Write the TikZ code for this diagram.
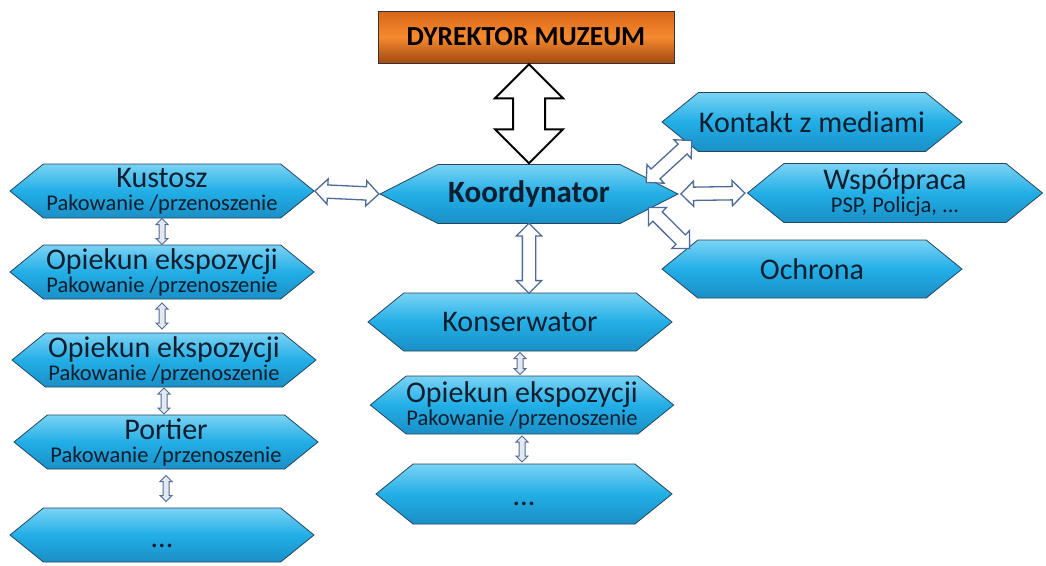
\documentclass[tikz,border=0pt]{standalone}
\usepackage{fontspec}
\setmainfont{Carlito}
\usetikzlibrary{shapes.symbols,shapes.arrows}

\definecolor{hexmid}{HTML}{22AEE6}
\definecolor{hextop}{HTML}{7AD3F4}
\definecolor{hexbot}{HTML}{1A8FC6}
\definecolor{hexline}{HTML}{23465E}
\definecolor{hextext}{HTML}{0F1E2E}
\definecolor{arrline}{HTML}{4E6A98}
\definecolor{dirtop}{HTML}{D8661A}
\definecolor{dirmid}{HTML}{F58A2E}
\definecolor{dirbot}{HTML}{A24812}

\newcommand{\podpis}[1]{{\fontsize{22.5}{22.5}\selectfont #1}}

\tikzset{
  hexa/.style={signal, signal to=east and west, signal pointer angle=78,
    draw=hexline, line width=0.8pt, top color=hextop, bottom color=hexbot, middle color=hexmid,
    minimum width=304pt, minimum height=54pt, inner sep=0pt, align=center, text=hextext,
    font=\fontsize{30}{23}\selectfont},
  dyrektor/.style={rectangle, draw=black!80, line width=1pt, top color=dirtop, bottom color=dirbot,
    middle color=dirmid, minimum width=296pt, minimum height=52pt, inner sep=0pt,
    font=\bfseries\fontsize{27.5}{27.5}\selectfont},
  darr/.style={double arrow, draw=arrline, fill=white, line width=1.3pt, inner xsep=0pt,
    inner ysep=6pt, double arrow head extend=6pt},
  malastrz/.style={double arrow, draw=arrline, fill=white!85!arrline, line width=1pt, inner xsep=0pt,
    inner ysep=2.5pt, double arrow head extend=3pt, minimum height=26pt},
  duzastrz/.style={double arrow, draw=black, fill=white, line width=2pt, inner xsep=0pt,
    inner ysep=15pt, double arrow head extend=18pt}
}

\begin{document}
\begin{tikzpicture}[x=1pt, y=-1pt]
\useasboundingbox (0,0) rectangle (1046,565);

\node[dyrektor] (dyr) at (526,37) {DYREKTOR MUZEUM};
\node[hexa, signal pointer angle=54, minimum width=298pt, minimum height=59pt,
  font=\bfseries\fontsize{31}{31}\selectfont] (koord) at (529,194) {Koordynator};

% lewa kolumna
\node[hexa] (kus) at (162,191) {Kustosz\\\podpis{Pakowanie /przenoszenie}};
\node[hexa] (op1) at (162,272) {Opiekun ekspozycji\\\podpis{Pakowanie /przenoszenie}};
\node[hexa] (op2) at (164,360) {Opiekun ekspozycji\\\podpis{Pakowanie /przenoszenie}};
\node[hexa] (por) at (166,442) {Portier\\\podpis{Pakowanie /przenoszenie}};
\node[hexa] (kropl) at (162,535) {\mbox{}\\[3pt]...};

% srodek
\node[hexa, minimum height=58pt] (kons) at (520,322) {Konserwator};
\node[hexa, minimum height=58pt, minimum width=300pt] (op3) at (522,405) {Opiekun ekspozycji\\\podpis{Pakowanie /przenoszenie}};
\node[hexa, minimum height=60pt, minimum width=296pt] (kropc) at (524,494) {\mbox{}\\...};

% prawa strona
\node[hexa, minimum height=59pt, minimum width=300pt] (kont) at (812,122) {Kontakt z mediami};
\node[hexa, minimum height=59pt, minimum width=295pt] (wsp) at (895,193) {Współpraca\\\podpis{PSP, Policja, ...}};
\node[hexa, minimum height=58pt, minimum width=300pt] (ochr) at (812,269) {Ochrona};

\path (dyr.south -| koord.north) -- node[duzastrz, sloped, minimum height=99pt]{} (koord.north);
\path (kus.east) -- node[darr, sloped, minimum height=64pt]{} (koord.west);
\path (koord.south) -- node[darr, sloped, minimum height=70pt]{} (koord.south |- kons.north);
\path (koord.east) -- node[darr, sloped, minimum height=64pt]{} (wsp.west);
\path (koord.7) -- node[darr, sloped, minimum height=62pt]{} (kont.190);
\path (koord.-7) -- node[darr, sloped, minimum height=58pt]{} (ochr.170);

\path (kus.south) -- node[malastrz, sloped]{} (kus.south |- op1.north);
\path (op1.south) -- node[malastrz, sloped]{} (op1.south |- op2.north);
\path (op2.south) -- node[malastrz, sloped]{} (op2.south |- por.north);
\path (por.south) -- node[malastrz, sloped]{} (por.south |- kropl.north);
\path (kons.south) -- node[malastrz, sloped, minimum height=22pt]{} (kons.south |- op3.north);
\path (op3.south) -- node[malastrz, sloped]{} (op3.south |- kropc.north);

\end{tikzpicture}
\end{document}
